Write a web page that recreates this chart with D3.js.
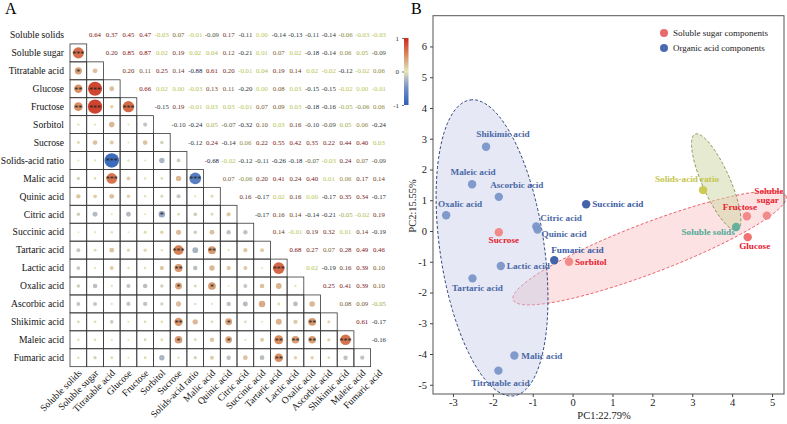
<!DOCTYPE html>
<html><head><meta charset="utf-8">
<script src="https://cdn.jsdelivr.net/npm/d3@7"></script>
<style>body{margin:0;background:#fff}svg{display:block}svg text{font-family:"Liberation Serif","Times New Roman","DejaVu Serif",serif}</style>
</head><body>
<svg id="chart" width="787" height="424"></svg>
<script>
// ---------------- DATA ----------------
const variables = ["Soluble solids","Soluble sugar","Titratable acid","Glucose","Fructose","Sorbitol","Sucrose","Solids-acid ratio","Malic acid","Quinic acid","Citric acid","Succinic acid","Tartaric acid","Lactic acid","Oxalic acid","Ascorbic acid","Shikimic acid","Maleic acid","Fumaric acid"];
// upper triangle: row i holds r(i, j) for j = i+1 .. 18
const upperRows = [
 [0.64,0.37,0.45,0.47,-0.03,0.07,-0.01,-0.09,0.17,-0.11,0.00,-0.14,-0.13,-0.11,-0.14,-0.06,-0.03,-0.03],
 [0.20,0.85,0.87,0.02,0.19,0.02,0.04,0.12,-0.21,0.01,0.07,0.02,-0.18,-0.14,0.06,0.05,-0.09],
 [0.20,0.11,0.25,0.14,-0.88,0.61,0.20,-0.01,0.04,0.19,0.14,0.02,-0.02,-0.12,-0.02,0.06],
 [0.66,0.02,0.00,-0.03,0.13,0.11,-0.20,0.00,0.08,0.03,-0.15,-0.15,-0.02,0.00,-0.01],
 [-0.15,0.19,-0.01,0.03,0.03,-0.01,0.07,0.09,0.03,-0.18,-0.16,-0.05,-0.06,0.06],
 [-0.10,-0.24,0.05,-0.07,-0.32,0.10,0.03,0.16,-0.10,-0.09,0.05,0.06,-0.24],
 [-0.12,0.24,-0.14,0.06,0.22,0.55,0.42,0.35,0.22,0.44,0.40,0.03],
 [-0.68,-0.02,-0.12,-0.11,-0.26,-0.18,-0.07,-0.03,0.24,0.07,-0.09],
 [0.07,-0.06,0.20,0.41,0.24,0.40,0.01,0.06,0.17,0.14],
 [0.16,-0.17,0.02,0.16,0.00,-0.17,0.35,0.34,-0.17],
 [-0.17,0.16,0.14,-0.14,-0.21,-0.05,-0.02,0.19],
 [0.14,-0.01,0.19,0.32,0.01,0.14,-0.19],
 [0.68,0.27,0.07,0.28,0.49,0.46],
 [0.02,-0.19,0.16,0.39,0.10],
 [0.25,0.41,0.39,0.10],
 [0.08,0.09,-0.05],
 [0.61,-0.17],
 [-0.16]
];
// significance marks in the lower triangle: [row, col, stars]
const significance = [
 [1,0,"***"],[2,0,"*"],[3,0,"**"],[3,1,"***"],[4,0,"**"],[4,1,"***"],[4,3,"***"],
 [7,2,"***"],[8,2,"***"],[8,7,"***"],[10,5,"*"],[12,6,"***"],[12,8,"**"],
 [13,6,"**"],[13,12,"***"],[14,6,"*"],[14,8,"*"],[16,6,"**"],[16,9,"*"],[16,14,"**"],
 [17,6,"*"],[17,9,"*"],[17,12,"**"],[17,13,"**"],[17,14,"**"],[17,16,"***"],[18,12,"**"]
];
const colorbarTicks = [1,0,-1];

// PCA panel
const pcaNames = ["Shikimic acid","Maleic acid","Ascorbic acid","Oxalic acid","Citric acid","Quinic acid","Sucrose","Lactic acid","Fumaric acid","Sorbitol","Succinic acid","Tartaric acid","Malic acid","Titratable acid","Solids-acid ratio","Fructose","Soluble sugar","Soluble solids","Glucose"];
const pc1 = [-2.17,-2.52,-1.85,-3.17,-0.91,-0.88,-1.85,-1.80,-0.46,-0.09,0.34,-2.51,-1.46,-1.86,3.27,4.37,4.87,4.10,4.39];
const pc2 = [2.74,1.52,1.11,0.51,0.15,0.05,-0.04,-1.14,-0.95,-1.00,0.87,-1.54,-4.05,-4.54,1.33,0.48,0.50,0.13,-0.20];
const pcaGroup = ["acid","acid","acid","acid","acid","acid","sugar","acid","acid2","sugar","acid2","acid","acid","acid","ratio","sugar","sugar","solids","sugar2"];
const xTicks = [-3,-2,-1,0,1,2,3,4,5];
const yTicks = [-5,-4,-3,-2,-1,0,1,2,3,4,5,6];
// confidence ellipses (data units): center, semi-axis vector 1, semi-axis vector 2
const ellipseNames = ["sugar","acid","ratio"];
const ellipseCenters = [[1.93,-0.55],[-2.02,-0.55],[3.60,1.59]];
const ellipseAxis1 = [[3.42,1.69],[-0.55,4.81],[0.53,-1.56]];
const ellipseAxis2 = [[0.22,-0.76],[1.29,0.25],[0.32,0.18]];
const legendLabels = ["Soluble sugar  components","Organic acid components"];

// ---------------- DRAW ----------------
const svg = d3.select("#chart");
const n = variables.length;
function r(i,j){ if(i===j) return 1; const a=Math.min(i,j), b=Math.max(i,j); return upperRows[a][b-a-1]; }

const xB = d3.scaleBand().domain(d3.range(n)).range([70, 70+19*16.7]);
const yB = d3.scaleBand().domain(d3.range(n)).range([26, 26+19*17.93]);
const fillC = d3.scaleLinear().domain([-1,-0.5,-0.2,0,0.2,0.5,1])
  .range(["#2c5fb8","#6f8fc4","#b5bcc3","#e6e8b6","#dcc09e","#d98a5c","#c92a1f"]);
const textC = d3.scaleLinear().domain([-1,-0.3,-0.12,-0.07,-0.045,0,0.045,0.07,0.15,0.3,1])
  .range(["#1b2a55","#1e2a3a","#2e3638","#5e6440","#b0bd4c","#bcc654","#b0bd4c","#7a6530","#6b3520","#7a1a1a","#8b0000"]);
const rad = d3.scaleLinear().domain([0,1]).range([1,8.1]);

svg.append("text").attr("x",5).attr("y",14).attr("font-size",16).text("A");
svg.append("text").attr("x",411).attr("y",14).attr("font-size",16).text("B");

const gA = svg.append("g");
gA.selectAll("text.rl").data(variables).join("text").attr("class","rl")
  .attr("x",64).attr("y",(d,i)=>yB(i)+yB.bandwidth()/2+3.3)
  .attr("text-anchor","end").attr("font-size",9.6).attr("fill","#111").text(d=>d);
gA.selectAll("text.cl").data(variables).join("text").attr("class","cl")
  .attr("transform",(d,i)=>`translate(${xB(i)+xB.bandwidth()/2+4},${yB.range()[1]+7}) rotate(-45)`)
  .attr("text-anchor","end").attr("font-size",9.6).attr("fill","#111").text(d=>d);

const lower=[], upperCells=[];
for(let i=0;i<n;i++) for(let j=0;j<n;j++){
  if(j<i) lower.push({i,j,v:r(i,j)}); else if(j>i) upperCells.push({i,j,v:r(i,j)});
}
gA.selectAll("rect.cell").data(lower).join("rect").attr("class","cell")
  .attr("x",d=>xB(d.j)).attr("y",d=>yB(d.i)).attr("width",xB.bandwidth()).attr("height",yB.bandwidth())
  .attr("fill","none").attr("stroke","#3a3a3a").attr("stroke-width",0.8);
gA.selectAll("circle.cc").data(lower).join("circle").attr("class","cc")
  .attr("cx",d=>xB(d.j)+xB.bandwidth()/2).attr("cy",d=>yB(d.i)+yB.bandwidth()/2)
  .attr("r",d=>rad(Math.abs(d.v))).attr("fill",d=>fillC(d.v));
gA.selectAll("text.st").data(significance).join("text").attr("class","st")
  .attr("x",d=>xB(d[1])+xB.bandwidth()/2).attr("y",d=>yB(d[0])+yB.bandwidth()/2+4)
  .attr("text-anchor","middle").attr("font-size",8).attr("fill","#222").text(d=>d[2]);
gA.selectAll("text.num").data(upperCells).join("text").attr("class","num")
  .attr("x",d=>xB(d.j)+xB.bandwidth()/2).attr("y",d=>yB(d.i)+yB.bandwidth()/2+2.3)
  .attr("text-anchor","middle").attr("font-size",6.8).attr("fill",d=>textC(d.v))
  .text(d=>d3.format(".2f")(d.v).replace("−","-"));

// colorbar
const defs = svg.append("defs");
const grad = defs.append("linearGradient").attr("id","cb").attr("x1",0).attr("y1",1).attr("x2",0).attr("y2",0);
d3.range(0,1.0001,0.05).forEach(t=>grad.append("stop").attr("offset",t).attr("stop-color",fillC(-1+2*t)));
const cbY = d3.scaleLinear().domain([-1,1]).range([105,38]);
svg.append("rect").attr("x",404).attr("y",38).attr("width",4.5).attr("height",67).attr("fill","url(#cb)");
const cbAx = svg.append("g").attr("transform","translate(404,0)").call(d3.axisLeft(cbY).tickValues(colorbarTicks).tickSize(2).tickFormat(d3.format("d")));
cbAx.select(".domain").remove();
cbAx.selectAll("line").attr("stroke","#777");
cbAx.selectAll("text").attr("font-family",null).attr("font-size",7).attr("fill","#333").text(d=>String(d));

// ---------------- PCA ----------------
const xS = d3.scaleLinear().domain([-3.5,5.3]).range([433,784]);
const yS = d3.scaleLinear().domain([-5.3,7.0]).range([394,15.7]);
const gB = svg.append("g");
const ellStyle = {
  sugar:{fill:"#f7b4b4",op:0.38,stroke:"#e8505a"},
  acid:{fill:"#c3cbe6",op:0.42,stroke:"#1f3470"},
  ratio:{fill:"#cdd6a4",op:0.5,stroke:"#7f8a4a"}
};
ellipseNames.forEach((nm,k)=>{
  const c=ellipseCenters[k], a=ellipseAxis1[k], b=ellipseAxis2[k];
  const pts=d3.range(0,Math.PI*2,Math.PI/90).map(t=>[xS(c[0]+Math.cos(t)*a[0]+Math.sin(t)*b[0]), yS(c[1]+Math.cos(t)*a[1]+Math.sin(t)*b[1])]);
  gB.append("path").attr("d",d3.line().curve(d3.curveLinearClosed)(pts))
    .attr("fill",ellStyle[nm].fill).attr("fill-opacity",ellStyle[nm].op)
    .attr("stroke",ellStyle[nm].stroke).attr("stroke-width",0.9).attr("stroke-dasharray","3,2");
});
gB.append("rect").attr("x",433).attr("y",15.7).attr("width",351).attr("height",378.3).attr("fill","none").attr("stroke","#555").attr("stroke-width",1);
const xa = gB.append("g").attr("transform","translate(0,394)").call(d3.axisBottom(xS).tickValues(xTicks).tickSize(3).tickSizeOuter(0).tickFormat(d3.format("d")));
const ya = gB.append("g").attr("transform","translate(433,0)").call(d3.axisLeft(yS).tickValues(yTicks).tickSize(3).tickSizeOuter(0).tickFormat(d3.format("d")));
[xa,ya].forEach(a=>{a.select(".domain").remove();a.selectAll("line").attr("stroke","#444");
  a.attr("font-family",null);
  a.selectAll("text").attr("font-size",10.5).attr("fill","#222").text(d=>String(d));});
xa.selectAll("text").attr("dy","0.6em");
gB.append("text").attr("x",604).attr("y",419).attr("text-anchor","middle").attr("font-size",10.5).attr("fill","#222").text("PC1:22.79%");
gB.append("text").attr("transform","translate(416,206) rotate(-90)").attr("text-anchor","middle").attr("font-size",10.5).attr("fill","#222").text("PC2:15.55%");

const ptColor = {acid:"#7b96c9",acid2:"#3b5ba3",sugar:"#f28585",sugar2:"#f06a6a",ratio:"#c9c84e",solids:"#5fae9c"};
const lblColor = {acid:"#4a68a6",acid2:"#3b5ba3",sugar:"#e8202e",sugar2:"#e8202e",ratio:"#c5c54a",solids:"#4faa98"};
const pts = pcaNames.map((nm,k)=>({nm,x:pc1[k],y:pc2[k],g:pcaGroup[k]}));
gB.selectAll("circle.pt").data(pts).join("circle").attr("class","pt")
  .attr("cx",d=>xS(d.x)).attr("cy",d=>yS(d.y)).attr("r",4.2).attr("fill",d=>ptColor[d.g]).attr("fill-opacity",0.95);
const lblOff = {
 "Shikimic acid":[17,-10,"middle"],"Maleic acid":[1,-9,"middle"],"Ascorbic acid":[18,-9,"middle"],
 "Oxalic acid":[14,-8,"middle"],"Citric acid":[4,-5,"start"],"Quinic acid":[4,8,"start"],
 "Sucrose":[5,11,"middle"],"Lactic acid":[6,3,"start"],"Fumaric acid":[-3,-7,"start"],
 "Sorbitol":[6,3,"start"],"Succinic acid":[6,3,"start"],"Tartaric acid":[5,13,"middle"],
 "Malic acid":[7,3,"start"],"Titratable acid":[2,15,"middle"],"Solids-acid ratio":[-16,-8,"middle"],
 "Fructose":[-7,-6,"middle"],"Soluble solids":[-28,8,"middle"],"Glucose":[7,12,"middle"]
};
pts.forEach(d=>{
  const px=xS(d.x), py=yS(d.y);
  if(d.nm==="Soluble sugar"){
    const t=gB.append("text").attr("font-weight","bold").attr("font-size",9.2).attr("fill",lblColor[d.g]).attr("text-anchor","middle");
    t.append("tspan").attr("x",px+2).attr("y",py-22).text("Soluble");
    t.append("tspan").attr("x",px+1).attr("y",py-12.5).text("sugar");
    return;
  }
  const o=lblOff[d.nm];
  gB.append("text").attr("x",px+o[0]).attr("y",py+o[1]).attr("text-anchor",o[2])
    .attr("font-weight","bold").attr("font-size",9.2).attr("fill",lblColor[d.g]).text(d.nm);
});
const legColors=["#e86a6a","#4a6ab0"];
legendLabels.forEach((t,k)=>{
  gB.append("circle").attr("cx",664).attr("cy",33+k*15).attr("r",4).attr("fill",legColors[k]);
  gB.append("text").attr("x",673).attr("y",36+k*15).attr("font-size",9).attr("fill","#222").text(t);
});
</script>
</body></html>
